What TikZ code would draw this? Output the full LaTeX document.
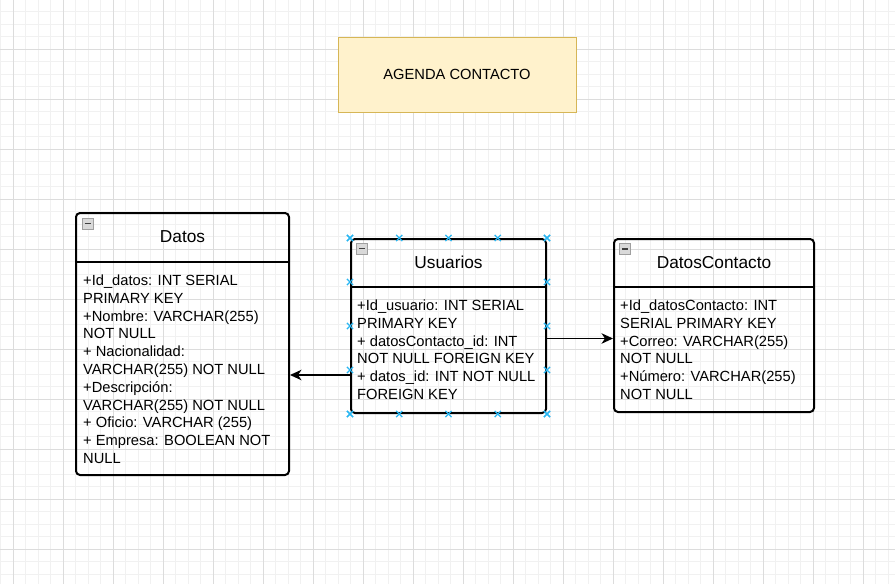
\documentclass[tikz,border=0pt]{standalone}
\usepackage{fontspec}
\setmainfont{Liberation Sans}
\usetikzlibrary{arrows.meta,positioning,calc,shapes.misc}
\definecolor{notefill}{HTML}{FFF2CC}
\definecolor{notedraw}{HTML}{D6B656}
\definecolor{handleblue}{HTML}{29B6F2}
\definecolor{minorgrid}{HTML}{F1F1F1}
\definecolor{majorgrid}{HTML}{DCDCDC}
\tikzstyle{note} = [draw=notedraw,fill=notefill,line width=1pt,rectangle,minimum width=238pt,minimum height=75pt,font=\fontsize{14.7}{17}\selectfont]
\tikzstyle{entity} = [draw,line width=2pt,rectangle,rounded corners=4pt,inner sep=0,anchor=north west]
\tikzstyle{header} = [inner sep=0,font=\fontsize{17.3}{20}\selectfont]
\tikzstyle{fields} = [anchor=north west,inner sep=0,align=left,font=\fontsize{14.7}{17.83}\selectfont]
\tikzstyle{divider} = [line width=2pt]
\tikzstyle{link} = [-{Stealth[length=11.5pt,width=10.5pt,inset=3.5pt]},line width=1.3pt]
\tikzstyle{fold} = [draw=gray!75,fill=gray!30,rectangle,minimum size=11pt,inner sep=0,
  path picture={\draw[black!75,line width=1.5pt] ([xshift=2.5pt]path picture bounding box.west) -- ([xshift=-2.5pt]path picture bounding box.east);}]
\tikzstyle{handle} = [draw=handleblue,cross out,line width=1.2pt,minimum size=5pt,inner sep=0]
\def \hd {49pt}

\begin{document}
\begin{tikzpicture}[x=1pt,y=-1pt]
  \useasboundingbox (0,0) rectangle (895,584);
  % background grid
  \foreach \x in {0.5,13,...,895} \draw[minorgrid,line width=1pt] (\x,0) -- (\x,584);
  \foreach \y in {11.5,24,...,584} \draw[minorgrid,line width=1pt] (0,\y) -- (895,\y);
  \foreach \x in {13,63,...,895} \draw[majorgrid,line width=1pt] (\x,0) -- (\x,584);
  \foreach \y in {49,99,...,584} \draw[majorgrid,line width=1pt] (0,\y) -- (895,\y);

  \node[note] (agenda) at (457,74.5) {AGENDA CONTACTO};

  % Datos
  \node[entity,minimum width=213pt,minimum height=262pt] (datos) at (75,212) {};
  \node[header] (datosname) at ([yshift=-25pt]datos.north) {Datos};
  \draw[divider] ([yshift=-50pt]datos.north west) -- ([yshift=-50pt]datos.north east);
  \node[fold] (datosfold) at ([xshift=12.5pt,yshift=-11.5pt]datos.north west) {};
  \node[fields] (datosfields) at ([xshift=8pt,yshift=-62.5pt]datos.north west)
    {+Id\_datos: INT SERIAL\\PRIMARY KEY\\+Nombre: VARCHAR(255)\\NOT NULL\\+ Nacionalidad:\\VARCHAR(255) NOT NULL\\+Descripción:\\VARCHAR(255) NOT NULL\\+ Oficio: VARCHAR (255)\\+ Empresa: BOOLEAN NOT\\NULL};

  % Usuarios
  \node[entity,minimum width=195pt,minimum height=174pt] (usuarios) at (350,238) {};
  \node[header] (usuariosname) at ([yshift=-24.5pt]usuarios.north) {Usuarios};
  \draw[divider] ([yshift=-\hd]usuarios.north west) -- ([yshift=-\hd]usuarios.north east);
  \node[fold] (usuariosfold) at ([xshift=12pt,yshift=-10.5pt]usuarios.north west) {};
  \node[fields] (usuariosfields) at ([xshift=7pt,yshift=-61.5pt]usuarios.north west)
    {+Id\_usuario: INT SERIAL\\PRIMARY KEY\\+ datosContacto\_id: INT\\NOT NULL FOREIGN KEY\\+ datos\_id: INT NOT NULL\\FOREIGN KEY};

  % DatosContacto
  \node[entity,minimum width=200pt,minimum height=173pt] (contacto) at (613,238) {};
  \node[header] (contactoname) at ([yshift=-24.5pt]contacto.north) {DatosContacto};
  \draw[divider] ([yshift=-\hd]contacto.north west) -- ([yshift=-\hd]contacto.north east);
  \node[fold] (contactofold) at ([xshift=12pt,yshift=-11pt]contacto.north west) {};
  \node[fields] (contactofields) at ([xshift=7pt,yshift=-61.5pt]contacto.north west)
    {+Id\_datosContacto: INT\\SERIAL PRIMARY KEY\\+Correo: VARCHAR(255)\\NOT NULL\\+Número: VARCHAR(255)\\NOT NULL};

  % links
  \draw[link] ([yshift=-49pt]usuarios.west) -- ([yshift=-31pt]datos.east);
  \draw[link] ([yshift=-12.5pt]usuarios.east) -- ([yshift=-13pt]contacto.west);

  % selection handles
  \foreach \t [count=\i] in {0,0.25,0.5,0.75,1} {
    \node[handle] (ht\i) at ($(usuarios.north west)!\t!(usuarios.north east)$) {};
    \node[handle] (hb\i) at ($(usuarios.south west)!\t!(usuarios.south east)$) {};
    \node[handle] (hl\i) at ($(usuarios.north west)!\t!(usuarios.south west)$) {};
    \node[handle] (hr\i) at ($(usuarios.north east)!\t!(usuarios.south east)$) {};
  }
\end{tikzpicture}
\end{document}
